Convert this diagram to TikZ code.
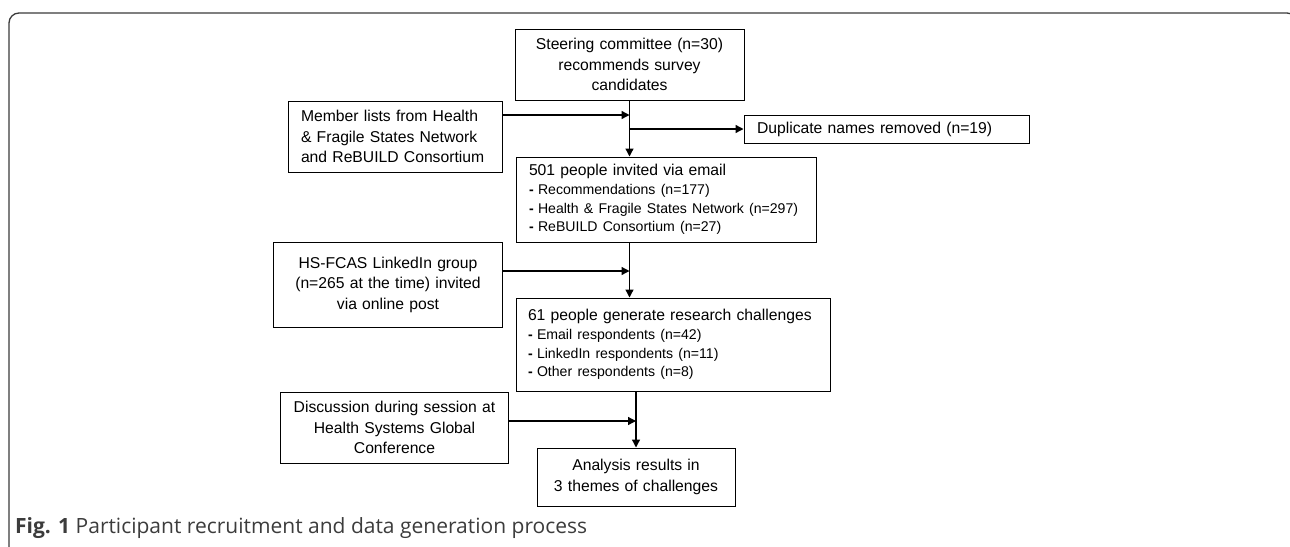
\documentclass[tikz,border=0pt]{standalone}
\usepackage{fontspec}
\setmainfont{Liberation Sans}
\newfontfamily\capfont{Open Sans}
\usetikzlibrary{positioning,arrows.meta,calc}

\definecolor{framegray}{HTML}{3A3A3A}
\definecolor{capgray}{HTML}{3C3C3C}

\tikzset{
  box/.style={draw, line width=1pt, inner xsep=0pt, inner ysep=0pt,
    align=center, font=\fontsize{15.7}{20.5}\selectfont},
  leftbox/.style={box, align=left, inner xsep=13pt},
  listbox/.style={leftbox, font=\fontsize{15.7}{18.8}\selectfont},
  flow/.style={line width=1.3pt, -{Triangle[length=8pt,width=8pt]}},
}
\newcommand{\itm}[1]{{\fontsize{14.1}{18.8}\selectfont\makebox[9pt][l]{\textbf{-}}#1}}

\begin{document}
\begin{tikzpicture}[x=1pt,y=-1pt]
    \useasboundingbox (0,0) rectangle (1290,546);

    % Frame
    \draw[framegray, line width=1.3pt, rounded corners=10pt]
        (9,570) -- (9,13) -- (1297,13) -- (1297,570);

    % Boxes
    \node[box, text width=229pt, minimum height=71pt] (steer) at (629.5,64.5)
        {Steering committee (n=30)\\recommends survey\\candidates};
    \node[leftbox, text width=188pt, minimum height=71pt] (member) at (395,136.5)
        {Member lists from Health\\\& Fragile States Network\\and ReBUILD Consortium};
    \node[leftbox, text width=259pt, minimum height=28pt] (dup) at (886.5,129)
        {Duplicate names removed (n=19)};
    \node[listbox, text width=274pt, minimum height=85pt] (email) at (666,199.5)
        {501 people invited via email\\
         \itm{Recommendations (n=177)}\\
         \itm{Health \& Fragile States Network (n=297)}\\
         \itm{ReBUILD Consortium (n=27)}};
    \node[box, text width=229pt, minimum height=85pt] (hs) at (388,284.5)
        {HS-FCAS LinkedIn group\\(n=265 at the time) invited\\via online post};
    \node[listbox, inner xsep=12pt, text width=290pt, minimum height=93pt] (gen) at (673,344.5)
        {61 people generate research challenges\\
         \itm{Email respondents (n=42)}\\
         \itm{LinkedIn respondents (n=11)}\\
         \itm{Other respondents (n=8)}};
    \node[box, text width=228pt, minimum height=71pt] (disc) at (394.5,427.5)
        {Discussion during session at\\Health Systems Global\\Conference};
    \node[box, text width=198pt, minimum height=58pt] (ana) at (636,477)
        {Analysis results in\\3 themes of challenges};

    % Junctions on the trunks
    \coordinate (jmember) at ($(steer.south |- 0,115)$);
    \coordinate (jdup) at (steer.south |- dup.west);
    \coordinate (jhs) at ($(steer.south |- 0,271)$);
    \coordinate (jdisc) at ($(ana.north |- 0,421)$);

    % Connectors
    \draw[flow] (steer.south) -- (steer.south |- email.north);
    \draw[flow] (member.east |- jmember) -- (jmember);
    \draw[flow] (jdup) -- (dup.west);
    \draw[flow] (email.south -| jhs) -- (gen.north -| jhs);
    \draw[flow] (hs.east |- jhs) -- (jhs);
    \draw[flow] (gen.south -| ana.north) -- (ana.north);
    \draw[flow] (disc.east |- jdisc) -- (jdisc);

    % Caption
    \node[anchor=base west, inner sep=0pt, text=capgray,
          font=\capfont\fontsize{21}{24}\selectfont] (caption) at (15,533)
        {\textbf{Fig. 1} Participant recruitment and data generation process};
\end{tikzpicture}
\end{document}
